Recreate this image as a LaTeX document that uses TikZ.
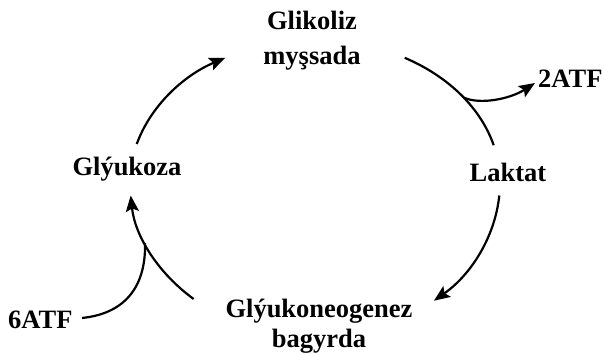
\documentclass[tikz,border=0pt]{standalone}
\usepackage{fontspec}
\setmainfont{Liberation Serif}
\usetikzlibrary{arrows.meta,calc}
\begin{document}
\begin{tikzpicture}[x=1pt,y=1pt,
  lbl/.style={font=\fontsize{26.5}{30}\selectfont\bfseries, inner sep=0pt, anchor=base},
  cyc/.style={line width=2.2pt, -{Stealth[length=16pt,width=13pt,inset=3pt]}},
  cycplain/.style={line width=2.2pt}]
\useasboundingbox (0,0) rectangle (604,353);
\clip (0,0) rectangle (604,353);
% labels
\node[lbl] (glik) at (312,323) {Glikoliz};
\node[lbl] (mys) at (312,288) {myşsada};
\node[lbl] (gluk) at (127,177) {Glýukoza};
\node[lbl] (lak) at (508,171) {Laktat};
\node[lbl] (gneo) at (319,36) {Glýukoneogenez};
\node[lbl] (bag) at (319,6) {bagyrda};
\node[lbl, anchor=base west] (atf2) at (538,265) {2ATF};
\node[lbl, anchor=base west] (atf6) at (8,25) {6ATF};
% ellipse centre
\coordinate (c) at (315,171);
% arc start points
\coordinate (a1) at ($(c)+(164.5:185 and 142)$);
\coordinate (a2) at ($(c)+(61:185 and 142)$);
\coordinate (a3) at ($(c)+(-5:185 and 155)$);
\coordinate (a4) at ($(c)+(229:185 and 155)$);
% cycle arcs
\draw[cyc] (a1) arc[start angle=164.5, end angle=119, x radius=185, y radius=142];
\draw[cycplain] (a2) arc[start angle=61, end angle=15, x radius=185, y radius=142];
\draw[cyc] (a3) arc[start angle=-5, end angle=-50, x radius=185, y radius=155];
\draw[cyc] (a4) arc[start angle=229, end angle=185, x radius=185, y radius=155];
% side branches
\coordinate (j2) at ($(c)+(36.5:185 and 142)$);
\coordinate (atf2end) at (535,270);
\draw[cyc] (j2) .. controls (480,248) and (510,254) .. (atf2end);
\coordinate (atf6start) at (82,35);
\coordinate (j6) at (145,110);
\draw[cycplain] (atf6start) .. controls (130,40) and (146,72) .. (j6);
\end{tikzpicture}
\end{document}
